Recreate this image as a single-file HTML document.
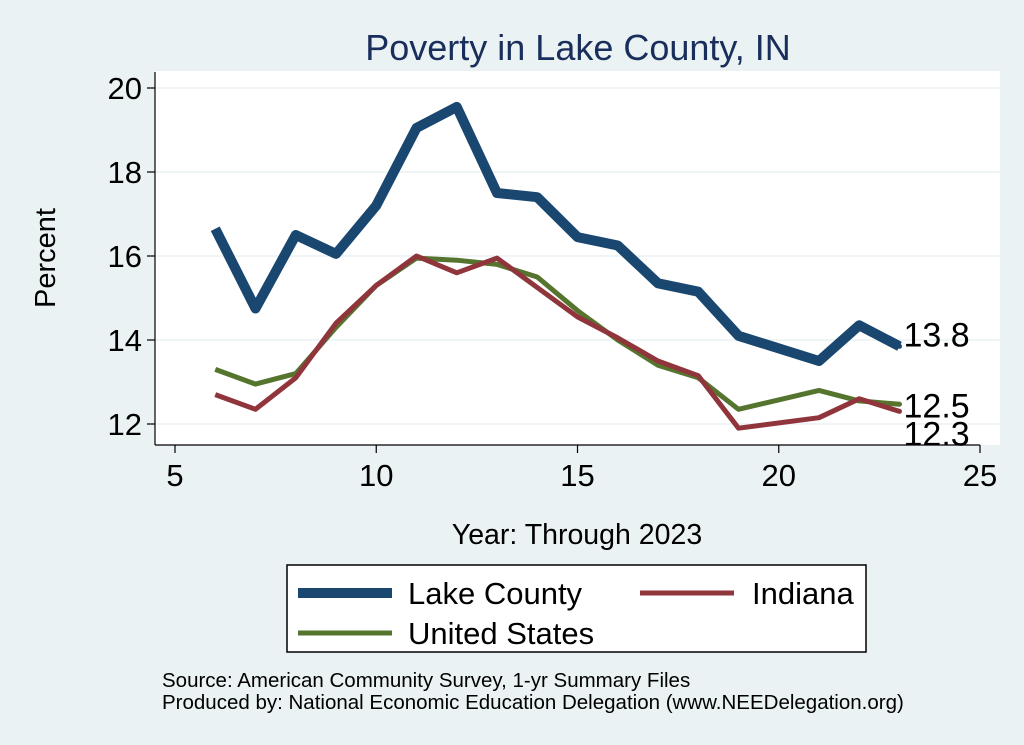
<!DOCTYPE html>
<html><head><meta charset="utf-8"><style>
body{margin:0;background:#eaf2f3;}
svg{display:block;font-family:"Liberation Sans",sans-serif;}
</style></head><body>
<svg width="1024" height="745" viewBox="0 0 1024 745">
<rect x="0" y="0" width="1024" height="745" fill="#eaf2f3"/>
<rect x="155" y="71" width="845" height="374" fill="#ffffff"/>
<text x="578" y="60" font-size="36" fill="#1a2e5c" text-anchor="middle">Poverty in Lake County, IN</text>
<g id="grid"></g>
<g id="axes"></g>
<g id="series"></g>
<text x="55" y="258" font-size="29" text-anchor="middle" transform="rotate(-90 55 258)">Percent</text>
<text x="577" y="544" font-size="28.5" text-anchor="middle">Year: Through 2023</text>
<g>
<rect x="287" y="565" width="579" height="87" fill="#fff" stroke="#000" stroke-width="1.5"/>
<line x1="298" y1="593" x2="392" y2="593" stroke="#1a476f" stroke-width="10"/>
<text x="408" y="604" font-size="31">Lake County</text>
<line x1="640" y1="593" x2="734" y2="593" stroke="#90353b" stroke-width="5"/>
<text x="752" y="604" font-size="31">Indiana</text>
<line x1="298" y1="633" x2="392" y2="633" stroke="#55752f" stroke-width="5"/>
<text x="408" y="644" font-size="31">United States</text>
</g>
<text x="162" y="687" font-size="20.5">Source: American Community Survey, 1-yr Summary Files</text>
<text x="162" y="709" font-size="20.5">Produced by: National Economic Education Delegation (www.NEEDelegation.org)</text>
</svg>
<script>
const years=[6,7,8,9,10,11,12,13,14,15,16,17,18,19,21,22,23];
const lake=[16.65,14.75,16.5,16.05,17.2,19.05,19.55,17.5,17.4,16.45,16.25,15.35,15.15,14.1,13.5,14.35,13.85];
const indiana=[12.7,12.35,13.1,14.4,15.3,16.0,15.6,15.95,15.25,14.55,14.05,13.5,13.15,11.9,12.15,12.6,12.3];
const us=[13.3,12.95,13.2,14.3,15.3,15.95,15.9,15.8,15.5,14.7,14.0,13.4,13.1,12.35,12.8,12.55,12.47];
const xTicks=[5,10,15,20,25];
const yTicks=[12,14,16,18,20];
const NS="http://www.w3.org/2000/svg";
function X(v){return 175+(v-5)*40.25;}
function Y(v){return 424-(v-12)*42;}
function mk(t,a,p){const e=document.createElementNS(NS,t);for(const k in a)e.setAttribute(k,a[k]);p.appendChild(e);return e;}
const grid=document.getElementById('grid'),axes=document.getElementById('axes'),ser=document.getElementById('series');
yTicks.forEach(v=>{
 const g=mk('line',{x1:155,x2:1000,y1:Y(v),y2:Y(v),stroke:'#eaf2f3','stroke-width':1.5},grid);
 
 
 const t=mk('line',{x1:147,x2:155,y1:Y(v),y2:Y(v),stroke:'#000','stroke-width':1.2},axes);
 
 
 const l=mk('text',{x:142,y:Y(v)+11,'font-size':31,'text-anchor':'end'},axes);l.textContent=v;
 
 
});
xTicks.forEach(v=>{
 const t=mk('line',{x1:X(v),x2:X(v),y1:445,y2:453,stroke:'#000','stroke-width':1.2},axes);
 
 
 const l=mk('text',{x:X(v),y:486,'font-size':31,'text-anchor':'middle'},axes);l.textContent=v;
 
 
});
const ya=mk('line',{x1:155,x2:155,y1:72,y2:445,stroke:'#000','stroke-width':1.2},axes);


const xa=mk('line',{x1:155,x2:X(25),y1:445,y2:445,stroke:'#000','stroke-width':1.2},axes);


function line(data,color,w,name,labelDy){
 const pts=years.map((y,i)=>X(y)+','+Y(data[i])).join(' ');
 const p=mk('polyline',{points:pts,fill:'none',stroke:color,'stroke-width':w,'stroke-linejoin':'round'},ser);
 
 
 const last=data[data.length-1];
 const d=mk('circle',{cx:X(years[years.length-1]),cy:Y(last),r:2.5,fill:color},ser);
 
 
 const t=mk('text',{x:X(years[years.length-1])+4,y:Y(last)+labelDy,'font-size':34},ser);
 t.textContent=last.toFixed(1);
 
 
}
line(us,'#55752f',5,'united-states',13);
line(indiana,'#90353b',5,'indiana',34);
line(lake,'#1a476f',10,'lake-county',0);
</script>
</body></html>
